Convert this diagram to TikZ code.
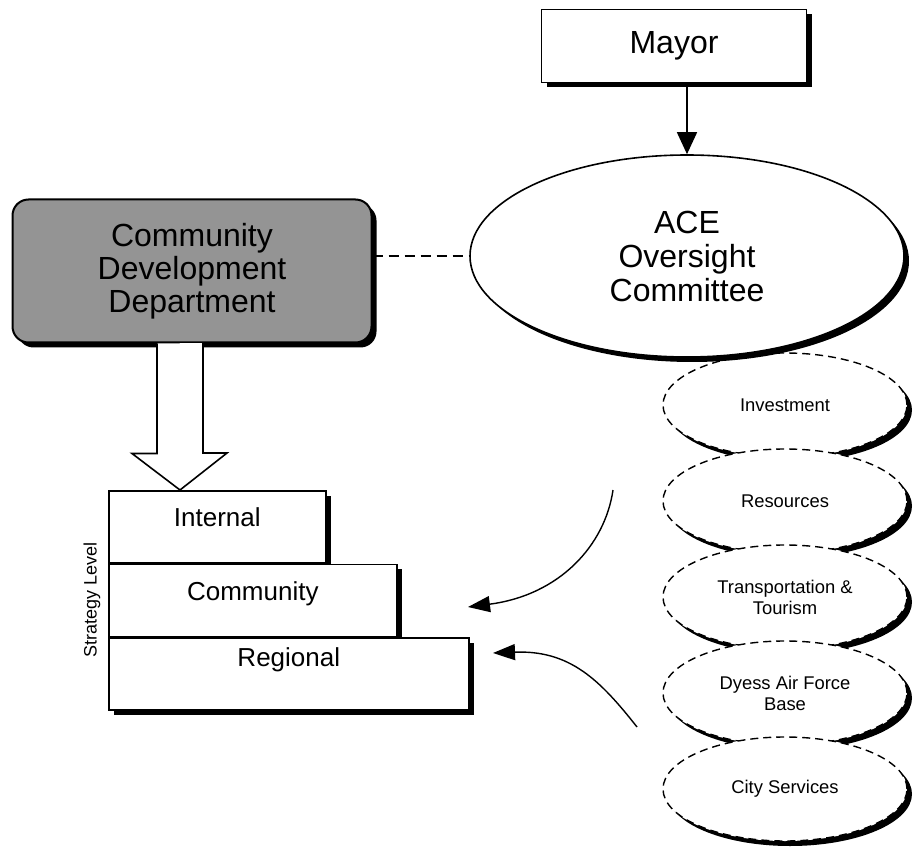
\documentclass[tikz,border=0pt]{standalone}
\usepackage{fontspec}
\setmainfont{Liberation Sans}
\usetikzlibrary{
    shapes.geometric,
    arrows.meta,
    positioning,
    calc,
    shadows
}

\begin{document}
\begin{tikzpicture}[
    x=0.5pt, y=-0.5pt,
    node distance=48pt,
    boxshadow/.style={general shadow={fill=black, shadow xshift=2.5pt, shadow yshift=-2.5pt}},
    headbox/.style={rectangle, minimum width=132.5pt, minimum height=36.5pt,
                    draw=black, line width=0.8pt, fill=white, boxshadow,
                    font=\fontsize{16}{18}\selectfont},
    committee/.style={ellipse, minimum width=217pt, minimum height=101pt, inner sep=0pt,
                      draw=black, line width=0.8pt, fill=white, boxshadow, align=center,
                      font=\fontsize{16}{17}\selectfont},
    subcommittee/.style={ellipse, minimum width=122pt, minimum height=52pt, inner sep=0pt,
                         draw=black, dash pattern=on 4pt off 2.5pt, line width=0.7pt,
                         fill=white, boxshadow, align=center,
                         font=\fontsize{9.2}{10.5}\selectfont},
    deptbox/.style={rectangle, rounded corners=8pt, minimum width=179.5pt, minimum height=71.5pt,
                    draw=black, line width=1pt, fill=black!42, boxshadow, align=center,
                    font=\fontsize{16}{16.5}\selectfont},
    levelbox/.style={rectangle, anchor=north west, minimum height=36pt, text height=9.5pt,
                     draw=black, line width=0.8pt, fill=white, boxshadow,
                     font=\fontsize{13}{15}\selectfont},
    arrow/.style={line width=0.8pt, -{Triangle[length=11pt, width=10pt]}},
    curvearrow/.style={line width=0.7pt, -{Triangle[length=11pt, width=8pt]}},
    link/.style={line width=0.6pt, dash pattern=on 5pt off 3pt},
    hollowarrow/.style={line width=0.8pt, draw=black, fill=white, line join=miter}
]
    \useasboundingbox (0,0) rectangle (916,850);

    % Nodes
    \node (mayor) [headbox] at (674,46) {Mayor};

    \node (invest) [subcommittee] at (785,405) {Investment};
    \node (resources) [subcommittee, below of=invest] {Resources};
    \node (transport) [subcommittee, below of=resources] {Transportation \&\\Tourism};
    \node (dyess) [subcommittee, below of=transport] {Dyess Air Force\\Base};
    \node (services) [subcommittee, below of=dyess] {City Services};

    \node (ace) [committee] at (687,256) {ACE\\Oversight\\Committee};
    \node (cdd) [deptbox] at (192,271) {Community\\Development\\Department};

    \node (internal) [levelbox, minimum width=108.5pt, text depth=10pt] at (108,490) {Internal};
    \node (community) [levelbox, minimum width=144pt, text depth=9.5pt] at (internal.south west) {Community};
    \node (regional) [levelbox, minimum width=180pt, text depth=17pt] at (community.south west) {Regional};
    \node (strategy) [rotate=90, font=\fontsize{9}{10}\selectfont] at ([xshift=-8pt]community.west) {Strategy Level};

    \coordinate (droptip) at ([xshift=36pt]internal.north west);
    \coordinate (from1) at (613,490);
    \coordinate (to1) at (468,607);
    \coordinate (from2) at (637,727);
    \coordinate (to2) at (493,653);

    % Arrows
    \draw [arrow] (mayor.south -| ace.north) -- (ace.north);
    \draw [link] (cdd.east |- ace.west) -- (ace.west);
    \draw [hollowarrow] (droptip |- cdd.south) ++(-23,0) -- ++(0,110) -- ++(-25,0)
        -- (droptip) -- ++(47,-37) -- ++(-24,0) -- ++(0,-110);
    \draw [curvearrow] (from1) .. controls (605,545) and (560,595) .. (to1);
    \draw [curvearrow] (from2) .. controls (600,680) and (570,650) .. (to2);

\end{tikzpicture}
\end{document}
